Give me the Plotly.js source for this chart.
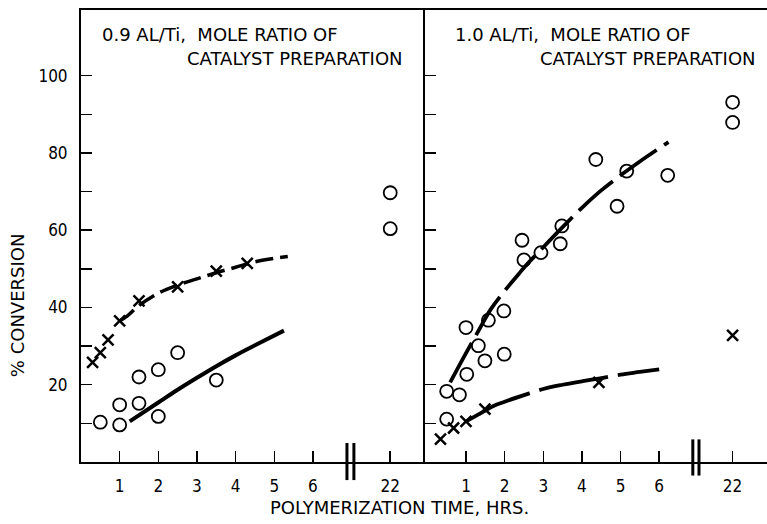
<!DOCTYPE html>
<html>
<head>
<meta charset="utf-8">
<script src="https://cdn.plot.ly/plotly-3.0.1.min.js"></script>
<style>html,body{margin:0;padding:0;background:#fff;}#chart{width:767px;height:524px;}</style>
</head>
<body>
<div id="chart"></div>
<script>
// ---- Data (hours of polymerization, % conversion) ----
// Left panel: 0.9 Al/Ti
const leftCircleHours = [0.5, 1.0, 1.0, 1.5, 1.5, 2.0, 2.0, 2.5, 3.5, 22, 22];
const leftCircleConv  = [10.3, 9.6, 14.8, 22.0, 15.2, 23.9, 11.8, 28.3, 21.2, 69.7, 60.4];
const leftCrossHours  = [0.3, 0.5, 0.7, 1.0, 1.5, 2.5, 3.5, 4.3];
const leftCrossConv   = [25.8, 28.3, 31.6, 36.5, 41.7, 45.3, 49.4, 51.4];
const leftDashHours   = [1.0, 1.2, 1.5, 2.0, 2.5, 3.0, 3.5, 4.0, 4.5, 5.0, 5.35];
const leftDashConv    = [36.5, 37.8, 40.5, 43.7, 45.8, 47.4, 49.0, 50.4, 51.8, 52.7, 53.2];
const leftSolidHours  = [1.26, 2.0, 2.5, 3.0, 3.5, 4.0, 4.5, 5.25];
const leftSolidConv   = [10.5, 15.4, 18.7, 21.8, 24.8, 27.6, 30.2, 34.0];
// Right panel: 1.0 Al/Ti
const rightCircleHours = [22, 22, 4.36, 5.16, 6.22, 4.91, 3.48, 2.45, 3.44, 2.94, 2.5, 1.98, 1.58, 1.0, 1.32, 1.49, 1.99, 1.02, 0.5, 0.83, 0.5];
const rightCircleConv  = [93.1, 87.9, 78.3, 75.3, 74.2, 66.2, 61.1, 57.4, 56.5, 54.2, 52.3, 39.1, 36.7, 34.8, 30.1, 26.2, 27.9, 22.7, 18.3, 17.4, 11.1];
const rightCrossHours  = [0.34, 0.68, 1.0, 1.49, 4.44, 22];
const rightCrossConv   = [5.9, 8.8, 10.5, 13.7, 20.6, 32.8];
const rightUpperHours  = [0.59, 1.0, 1.32, 1.64, 2.0, 2.36, 2.5, 3.0, 3.5, 4.0, 4.5, 5.0, 5.5, 6.24];
const rightUpperConv   = [20.6, 28.2, 33.9, 39.5, 44.3, 48.6, 50.3, 55.6, 60.8, 65.8, 70.3, 74.2, 77.8, 82.8];
const rightLowerHours  = [1.0, 1.5, 1.71, 2.0, 2.5, 3.0, 3.5, 4.0, 4.5, 5.0, 5.5, 6.0];
const rightLowerConv   = [10.5, 13.3, 14.5, 15.6, 17.3, 18.9, 20.0, 20.9, 21.7, 22.6, 23.3, 24.0];
// Tick labels
const xTickHours = [1, 2, 3, 4, 5, 6, 22];
const xTickText  = ['1', '2', '3', '4', '5', '6', '22'];
const yTickVals  = [10, 20, 30, 40, 50, 60, 70, 80, 90, 100];
const yTickText  = ['', '20', '', '40', '', '60', '', '80', '', '100'];
const panelTitles = [['0.9 AL/Ti,  MOLE RATIO OF', 'CATALYST PREPARATION'], ['1.0 AL/Ti,  MOLE RATIO OF', 'CATALYST PREPARATION']];

// The axis is broken between 7 and 22 hrs: 22 hrs is drawn one hour-unit after the break.
const BREAK_AT_LEFT = 8.0, BREAK_AT_RIGHT = 7.9;
const mapHours = (arr, pos22) => arr.map(h => h >= 22 ? pos22 : h);

const TICKFONT = 'DejaVu Sans Condensed, DejaVu Sans, sans-serif';
const TITLEFONT = 'DejaVu Sans, sans-serif';
const circleMarker = {symbol: 'circle-open', size: 13, color: '#000', line: {width: 1.8, color: '#000'}};
const crossMarker = {symbol: 'x-thin-open', size: 11, color: '#000', line: {width: 2.5, color: '#000'}};

const traces = [
  {x: mapHours(leftDashHours, BREAK_AT_LEFT), y: leftDashConv, xaxis: 'x', yaxis: 'y', mode: 'lines', line: {color: '#000', width: 3.5, dash: '18px,7px', shape: 'spline'}},
  {x: mapHours(leftSolidHours, BREAK_AT_LEFT), y: leftSolidConv, xaxis: 'x', yaxis: 'y', mode: 'lines', line: {color: '#000', width: 4, shape: 'spline'}},
  {x: mapHours(leftCircleHours, BREAK_AT_LEFT), y: leftCircleConv, xaxis: 'x', yaxis: 'y', mode: 'markers', marker: circleMarker},
  {x: mapHours(leftCrossHours, BREAK_AT_LEFT), y: leftCrossConv, xaxis: 'x', yaxis: 'y', mode: 'markers', marker: crossMarker},
  {x: mapHours(rightUpperHours, BREAK_AT_RIGHT), y: rightUpperConv, xaxis: 'x2', yaxis: 'y2', mode: 'lines', line: {color: '#000', width: 3.8, dash: '45px,9px', shape: 'spline'}},
  {x: mapHours(rightLowerHours, BREAK_AT_RIGHT), y: rightLowerConv, xaxis: 'x2', yaxis: 'y2', mode: 'lines', line: {color: '#000', width: 3.8, dash: '70px,10px', shape: 'spline'}},
  {x: mapHours(rightCircleHours, BREAK_AT_RIGHT), y: rightCircleConv, xaxis: 'x2', yaxis: 'y2', mode: 'markers', marker: circleMarker},
  {x: mapHours(rightCrossHours, BREAK_AT_RIGHT), y: rightCrossConv, xaxis: 'x2', yaxis: 'y2', mode: 'markers', marker: crossMarker}
];

const xCommon = {
  showgrid: false, zeroline: false, showline: true, linecolor: '#000', linewidth: 2, mirror: true,
  ticks: 'inside', ticklen: 11, tickwidth: 1.5, tickcolor: '#000', tickmode: 'array',
  tickfont: {family: TICKFONT, size: 17, color: '#000'}, ticklabelstandoff: 8
};
const yCommon = {
  showgrid: false, zeroline: false, showline: true, linecolor: '#000', linewidth: 2,
  ticks: 'inside', ticklen: 11, tickwidth: 1.5, tickcolor: '#000', tickmode: 'array',
  tickvals: yTickVals, range: [0, 117], tickfont: {family: TICKFONT, size: 17, color: '#000'}
};

const layout = {
  width: 767, height: 524,
  margin: {l: 81, r: 0, t: 10, b: 62},
  paper_bgcolor: '#fff', plot_bgcolor: '#fff', showlegend: false,
  xaxis: Object.assign({}, xCommon, {domain: [0, 0.5015], range: [0, 8.9],
    tickvals: mapHours(xTickHours, BREAK_AT_LEFT), ticktext: xTickText, anchor: 'y'}),
  xaxis2: Object.assign({}, xCommon, {domain: [0.5015, 1], range: [-0.06, 8.79],
    tickvals: mapHours(xTickHours, BREAK_AT_RIGHT), ticktext: xTickText, anchor: 'y2'}),
  yaxis: Object.assign({}, yCommon, {domain: [0, 1], anchor: 'x', ticktext: yTickText, ticklabelstandoff: 8}),
  yaxis2: Object.assign({}, yCommon, {domain: [0, 1], anchor: 'x2', showticklabels: false}),
  shapes: [
    {type: 'line', xref: 'x', yref: 'paper', x0: 6.88, x1: 6.88, y0: -0.04, y1: 0.042, line: {color: '#000', width: 3}},
    {type: 'line', xref: 'x', yref: 'paper', x0: 7.06, x1: 7.06, y0: -0.04, y1: 0.042, line: {color: '#000', width: 3}},
    {type: 'line', xref: 'x2', yref: 'paper', x0: 6.87, x1: 6.87, y0: -0.03, y1: 0.05, line: {color: '#000', width: 3}},
    {type: 'line', xref: 'x2', yref: 'paper', x0: 7.03, x1: 7.03, y0: -0.03, y1: 0.05, line: {color: '#000', width: 3}}
  ],
  annotations: [
    {text: panelTitles[0][0], xref: 'paper', yref: 'paper', x: 0.0277, y: 0.9447, xanchor: 'left', yanchor: 'middle', showarrow: false, font: {family: TITLEFONT, size: 18, color: '#000'}},
    {text: panelTitles[0][1], xref: 'paper', yref: 'paper', x: 0.4723, y: 0.8916, xanchor: 'right', yanchor: 'middle', showarrow: false, font: {family: TITLEFONT, size: 18, color: '#000'}},
    {text: panelTitles[1][0], xref: 'paper', yref: 'paper', x: 0.5423, y: 0.9447, xanchor: 'left', yanchor: 'middle', showarrow: false, font: {family: TITLEFONT, size: 18, color: '#000'}},
    {text: panelTitles[1][1], xref: 'paper', yref: 'paper', x: 0.9869, y: 0.8916, xanchor: 'right', yanchor: 'middle', showarrow: false, font: {family: TITLEFONT, size: 18, color: '#000'}},
    {text: '% CONVERSION', xref: 'paper', yref: 'paper', x: -0.0933, y: 0.347, xanchor: 'center', yanchor: 'middle', textangle: -90, showarrow: false, font: {family: TITLEFONT, size: 18, color: '#000'}},
    {text: 'POLYMERIZATION TIME, HRS.', xref: 'paper', yref: 'paper', x: 0.4636, y: -0.0996, xanchor: 'center', yanchor: 'middle', showarrow: false, font: {family: TITLEFONT, size: 18, color: '#000'}}
  ]
};

Plotly.newPlot('chart', traces, layout, {staticPlot: true, displayModeBar: false});
</script>
</body>
</html>
